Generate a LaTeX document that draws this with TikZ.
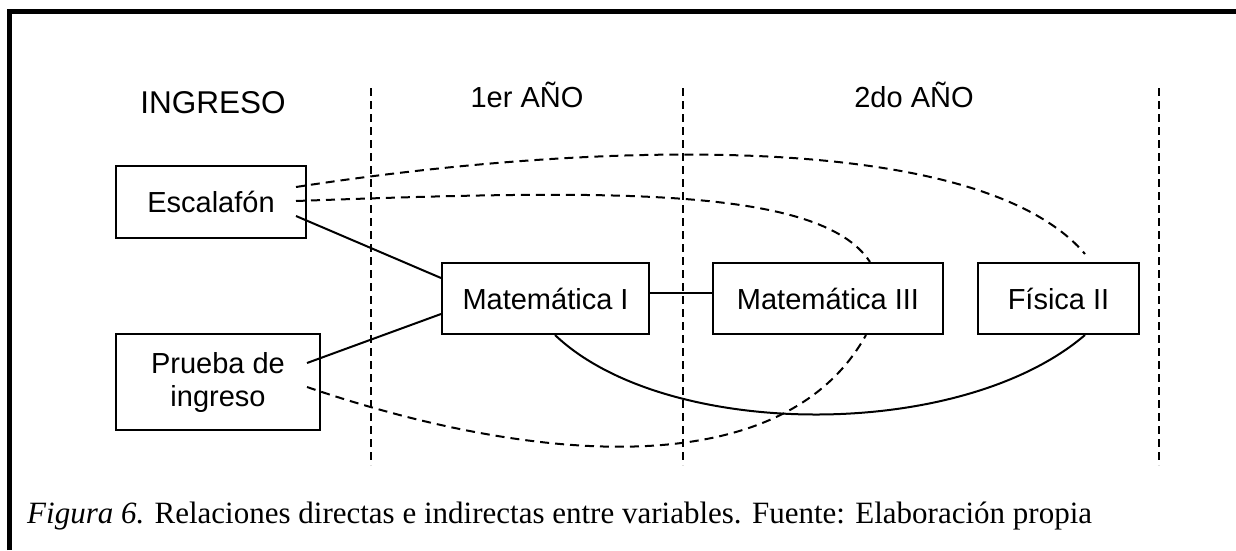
\documentclass[tikz,border=0pt]{standalone}
\usepackage{fontspec}
\setmainfont{Liberation Serif}
\newfontfamily\arialf{Liberation Sans}
\usetikzlibrary{calc}
\begin{document}
\begin{tikzpicture}[x=1pt,y=-1pt,
  box/.style={draw, line width=2pt, inner sep=0pt, font=\arialf\fontsize{29}{34}\selectfont, text height=21pt, text depth=0pt},
  boxml/.style={draw, line width=2pt, inner sep=0pt, font=\arialf\fontsize{29}{33}\selectfont, align=center},
  head/.style={inner sep=0pt, anchor=base, font=\arialf\fontsize{29}{34}\selectfont},
  conn/.style={line width=2pt},
  dline/.style={line width=2pt, dash pattern=on 9pt off 6pt},
  sep/.style={line width=1.8pt, dash pattern=on 8pt off 5pt}]
\useasboundingbox (0,0) rectangle (1236,550);
% frame (left and top edges visible)
\draw[line width=4.5pt] (9.7,550) -- (9.7,11.3) -- (1236,11.3);
% column separators
\draw[sep] (371,88) -- (371,465);
\draw[sep] (683,88) -- (683,465);
\draw[sep] (1159,88) -- (1159,465);
% headings
\node[head, font=\arialf\fontsize{31.5}{36}\selectfont] (hing) at (213,113) {INGRESO};
\node[head] (h1) at (527,107) {1er AÑO};
\node[head] (h2) at (914,107) {2do AÑO};
% boxes
\node[box, minimum width=190pt, minimum height=72pt] (esc) at (211,202) {Escalafón};
\node[boxml, minimum width=204pt, minimum height=96pt] (pru) at (218,382) {Prueba de\\ingreso};
\node[box, minimum width=207pt, minimum height=71pt] (m1) at (545.5,298.5) {Matemática I};
\node[box, minimum width=230pt, minimum height=71pt] (m3) at (828,298.5) {Matemática III};
\node[box, minimum width=161pt, minimum height=71pt] (fis) at (1058.5,298.5) {Física II};
% direct relations
\draw[conn] ([xshift=-11pt,yshift=-14pt]esc.east) -- ([yshift=20.5pt]m1.west);
\draw[conn] ([xshift=-14pt,yshift=19pt]pru.east) -- ([yshift=-15.5pt]m1.west);
\draw[conn] ([yshift=5.5pt]m1.east) -- ([yshift=5.5pt]m3.west);
\draw[conn] ([xshift=9.5pt]m1.south) .. controls (665,440) and (960,442) .. ([xshift=26.5pt]fis.south);
% indirect relations
\draw[dline] ([xshift=-11pt,yshift=15pt]esc.east) .. controls (600,140) and (980,130) .. ([xshift=26.5pt,yshift=8pt]fis.north);
\draw[dline] ([xshift=-11pt,yshift=1pt]esc.east) .. controls (600,190) and (820,185) .. ([xshift=42pt]m3.north);
\draw[dline] ([xshift=-14pt,yshift=-5pt]pru.east) .. controls (520,460) and (780,490) .. ([xshift=38pt]m3.south);
% caption
\node[anchor=base west, inner sep=0pt, font=\fontsize{31}{36}\selectfont] (cap) at (27,523) {\textit{Figura 6.} Relaciones directas e indirectas entre variables. Fuente: Elaboración propia};
\end{tikzpicture}
\end{document}
